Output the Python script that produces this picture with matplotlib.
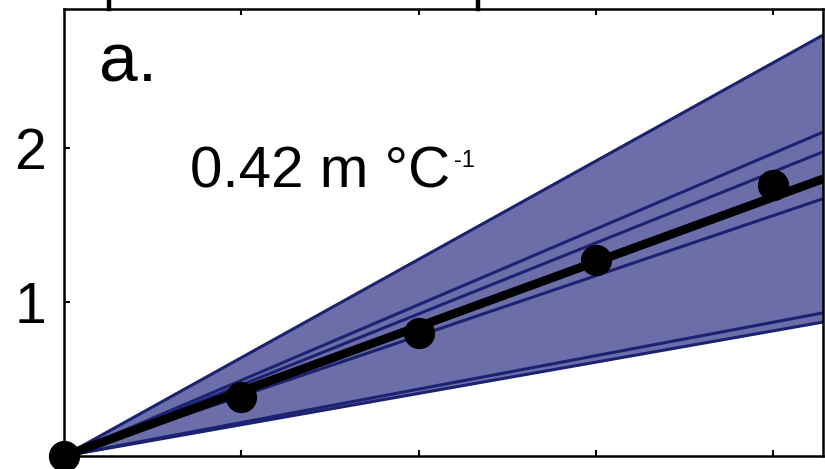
#!/usr/bin/env python
import numpy as np
import matplotlib
matplotlib.use('Agg')
import matplotlib.pyplot as plt
from matplotlib.lines import Line2D

plt.rcParams['font.family'] = ['Liberation Sans', 'DejaVu Sans']

# warming (deg C) and sea level points (m)
temps = [0, 1, 2, 3, 4]
slr_pts = [0.0, 0.38, 0.80, 1.27, 1.76]

# fitted slope (m per deg C)
fit_slope = 0.42
# slopes of the individual model lines making up the blue fan
model_slopes = [0.638, 0.491, 0.461, 0.390, 0.217, 0.203]

xlower, xupper = 0.0, 4.28
ylower, yupper = 0.0, 2.90

def plot_panel_a():
	fig = plt.figure(figsize=(8.25, 4.69), dpi=100)
	ax = fig.add_axes([64/825., 1-456/469., (823-64)/825., (456-9)/469.])

	xx = np.array([xlower, xupper])
	lo = min(model_slopes)*xx
	hi = max(model_slopes)*xx
	ax.fill_between(xx, lo, hi, color='#6b6ea8', linewidth=0, zorder=1)
	for s in model_slopes:
		ax.plot(xx, s*xx, color='#1c2272', linewidth=2.2, zorder=2)

	ax.plot(xx, fit_slope*xx, color='black', linewidth=6.3, solid_capstyle='butt', zorder=3)
	ax.plot(temps, slr_pts, 'o', color='black', markersize=21.5, clip_on=False, zorder=4)

	ax.axis([xlower, xupper, ylower, yupper])
	ax.set_xticks([1, 2, 3, 4])
	ax.set_yticks([1, 2])
	ax.set_xticklabels([])
	ax.set_yticklabels(['1', '2'], fontsize=41)
	ax.tick_params(axis='both', direction='in', length=4.5, width=1.5, top=True, right=False)
	ax.tick_params(axis='y', pad=13)
	for sp in ax.spines.values():
		sp.set_linewidth(1.8)

	ax.text(0.20, 2.43, 'a.', fontsize=50, ha='left', va='baseline')
	ax.text(0.71, 1.74, u'0.42 m \u00b0C', fontsize=42, ha='left', va='baseline')
	ax.text(2.20, 1.877, '-1', fontsize=17, ha='left', va='baseline')

	# bits of the panel above that were cut off
	for px in [109, 478]:
		fig.add_artist(Line2D([px/825., px/825.], [1-9/469., 1.0], color='black', linewidth=3.2))

	plt.savefig('out.png', dpi=100)

if __name__ == "__main__":
	plot_panel_a()
